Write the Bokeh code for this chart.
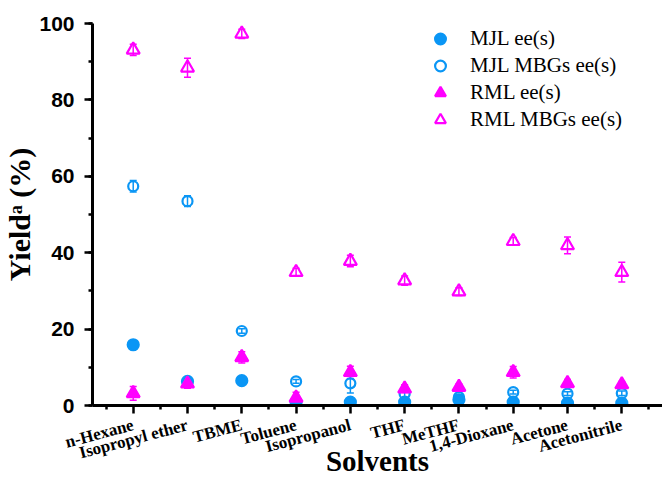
from bokeh.plotting import figure
from bokeh.models import (ColumnDataSource, FixedTicker, SingleIntervalTicker,
                          Whisker, TeeHead, Range1d)
from bokeh.embed import file_html
from bokeh.resources import INLINE

solvents = ["n-Hexane", "Isopropyl ether", "TBME", "Toluene", "Isopropanol",
            "THF", "MeTHF", "1,4-Dioxane", "Acetone", "Acetonitrile"]

mjl_ee = [15.9, 6.3, 6.5, 0.9, 0.9, 0.9, 1.5, 0.9, 0.6, 0.6]
mjl_ee_err = [0.4, 0.3, 0.3, 0.3, 0.3, 0.3, 0.3, 0.3, 0.3, 0.3]

mjl_mbgs = [57.4, 53.5, 19.5, 6.3, 5.8, 3.0, 2.2, 3.5, 3.1, 3.2]
mjl_mbgs_err = [1.5, 1.4, 0.6, 0.5, 2.5, 1.0, 0.5, 0.5, 0.5, 0.6]

rml_ee = [3.2, 5.7, 12.6, 2.0, 8.7, 4.4, 4.8, 8.7, 5.8, 5.5]
rml_ee_err = [1.8, 1.2, 1.5, 1.5, 1.6, 1.0, 0.8, 1.5, 1.0, 0.8]

rml_mbgs = [93.1, 88.4, 97.3, 34.9, 37.8, 32.7, 29.8, 43.0, 41.9, 34.9]
rml_mbgs_err = [1.5, 2.5, 1.2, 1.0, 1.5, 1.2, 1.0, 1.0, 2.2, 2.6]

y_ticks_interval = 20

BLUE = "#0A96F5"
MAGENTA = "#FF00FF"

xs = list(range(1, len(solvents) + 1))

p = figure(width=662, height=479, output_backend="svg", toolbar_location=None,
           x_range=Range1d(0.25, 10.75), y_range=Range1d(0, 100),
           min_border_left=88, min_border_right=0, min_border_top=23,
           min_border_bottom=74)
p.outline_line_color = None
p.grid.visible = False
p.background_fill_color = "white"


def add_series(vals, errs, label, marker, filled, color, size):
    src = ColumnDataSource(dict(
        x=xs, y=vals,
        upper=[v + e for v, e in zip(vals, errs)],
        lower=[v - e for v, e in zip(vals, errs)],
    ))
    w = Whisker(base="x", upper="upper", lower="lower", source=src,
                dimension="height", line_color=color, line_width=1.5,
                upper_head=TeeHead(size=7, line_color=color, line_width=1.5),
                lower_head=TeeHead(size=7, line_color=color, line_width=1.5))
    p.add_layout(w)
    p.scatter("x", "y", source=src, marker=marker, size=size,
              line_color=color, line_width=2.2,
              fill_color=color if filled else None,
              legend_label=label)


add_series(mjl_ee, mjl_ee_err, "MJL ee(s)", "circle", True, BLUE, 11)
add_series(mjl_mbgs, mjl_mbgs_err, "MJL MBGs ee(s)", "circle", False, BLUE, 10)
add_series(rml_ee, rml_ee_err, "RML ee(s)", "triangle", True, MAGENTA, 13)
add_series(rml_mbgs, rml_mbgs_err, "RML MBGs ee(s)", "triangle", False, MAGENTA, 13)

# axes
xa = p.xaxis[0]
xa.ticker = FixedTicker(ticks=xs, minor_ticks=[x - 0.5 for x in xs] + [xs[-1] + 0.5])
xa.major_label_overrides = {x: s for x, s in zip(xs, solvents)}
xa.major_label_orientation = 0.26
xa.major_label_text_font = "Liberation Serif"
xa.major_label_text_font_style = "bold"
xa.major_label_text_font_size = "17px"
xa.major_label_text_color = "black"
xa.major_label_standoff = 11
xa.axis_label = "Solvents"
xa.axis_label_text_font = "Liberation Serif"
xa.axis_label_text_font_style = "bold"
xa.axis_label_text_font_size = "29px"
xa.axis_label_text_color = "black"
xa.axis_label_standoff = -30

ya = p.yaxis[0]
ya.ticker = SingleIntervalTicker(interval=y_ticks_interval, num_minor_ticks=2)
ya.major_label_text_font = "Liberation Sans"
ya.major_label_text_font_style = "bold"
ya.major_label_text_font_size = "21px"
ya.major_label_text_color = "black"
ya.major_label_standoff = 10
ya.axis_label = "Yield\u1d43 (%)"
ya.axis_label_text_font = "Liberation Serif"
ya.axis_label_text_font_style = "bold"
ya.axis_label_text_font_size = "30px"
ya.axis_label_text_color = "black"
ya.axis_label_standoff = 0

for ax in (xa, ya):
    ax.axis_line_width = 3
    ax.axis_line_color = "black"
    ax.major_tick_line_width = 2.5
    ax.minor_tick_line_width = 2.5
    ax.major_tick_line_color = "black"
    ax.minor_tick_line_color = "black"
    ax.major_tick_out = 8
    ax.major_tick_in = 0
    ax.minor_tick_out = 4
    ax.minor_tick_in = 0

leg = p.legend[0]
leg.location = (334, 272)
leg.border_line_color = None
leg.background_fill_alpha = 0
leg.padding = 2
leg.spacing = 0
leg.margin = 0
leg.glyph_width = 28
leg.glyph_height = 27
leg.label_height = 27
leg.label_standoff = 16
leg.label_text_font = "Liberation Serif"
leg.label_text_font_size = "21px"
leg.label_text_color = "black"

open("out.html", "w").write(file_html(p, INLINE))
